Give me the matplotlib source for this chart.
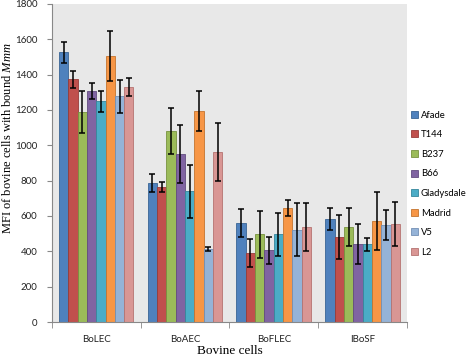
import matplotlib
matplotlib.use("Agg")
import matplotlib.pyplot as plt
import numpy as np

categories = ["BoLEC", "BoAEC", "BoFLEC", "IBoSF"]
series = ["Afade", "T144", "B237", "B66", "Gladysdale", "Madrid", "V5", "L2"]
values = {
    "Afade":      [1526, 788, 562, 583],
    "T144":       [1373, 762, 392, 479],
    "B237":       [1187, 1079, 496, 538],
    "B66":        [1307, 949, 406, 441],
    "Gladysdale": [1249, 741, 496, 440],
    "Madrid":     [1505, 1194, 645, 572],
    "V5":         [1277, 415, 522, 549],
    "L2":         [1330, 962, 538, 556],
}
errors = {
    "Afade":      [60, 50, 80, 60],
    "T144":       [50, 28, 78, 125],
    "B237":       [120, 130, 135, 105],
    "B66":        [47, 165, 77, 113],
    "Gladysdale": [60, 150, 120, 38],
    "Madrid":     [140, 115, 44, 162],
    "V5":         [95, 12, 150, 87],
    "L2":         [52, 165, 137, 123],
}
colors = ["#4F81BD", "#C0504D", "#9BBB59", "#8064A2", "#4BACC6", "#F79646", "#95B3D7", "#D99694"]
edges = ["#3A6595", "#983C3A", "#78923F", "#624C80", "#36879C", "#C4742F", "#7390B5", "#B57371"]

plt.rcParams['mathtext.fontset'] = 'custom'
plt.rcParams['mathtext.rm'] = 'Liberation Serif'
plt.rcParams['mathtext.it'] = 'Liberation Serif:italic'
plt.rcParams['font.family'] = ['Lato', 'DejaVu Sans']

fig = plt.figure(figsize=(4.71, 3.59), dpi=100)
ax = fig.add_axes([0.110, 0.103, 0.754, 0.886])
ax.set_facecolor("#E8E8E8")

n = len(series)
x = np.arange(len(categories))
bw = 0.84 / n
for i, s in enumerate(series):
    pos = x - 0.42 + bw * (i + 0.5)
    ax.bar(pos, values[s], width=bw, color=colors[i], edgecolor=edges[i], linewidth=0.6,
           label=s, zorder=2)
    ax.errorbar(pos, values[s], yerr=errors[s], fmt='none', ecolor='black',
                elinewidth=1.1, capsize=2.2, capthick=1.1, zorder=3)

ax.set_xlim(-0.5, len(categories) - 0.5)
ax.set_ylim(0, 1800)
ax.set_yticks(np.arange(0, 1801, 200))
ax.set_xticks(x)
ax.set_xticklabels(categories)
ax.set_xticks(np.arange(-0.5, len(categories), 1.0), minor=True)
ax.tick_params(axis='x', which='major', length=0, labelsize=7, pad=9, colors='#222222')
ax.tick_params(axis='x', which='minor', length=4, direction='out', color='#888888')
ax.tick_params(axis='y', length=3.5, direction='out', labelsize=7, pad=7, colors='#222222')
ax.tick_params(axis='y', color='#888888')
for sp in ['top', 'right']:
    ax.spines[sp].set_visible(False)
for sp in ['left', 'bottom']:
    ax.spines[sp].set_color('#888888')
    ax.spines[sp].set_linewidth(0.8)

ax.set_xlabel("Bovine cells", family='Liberation Serif', fontsize=9.5, labelpad=1)
fig.text(8 / 471, 1 - 138 / 359, r"MFI of bovine cells with bound $\mathit{Mmm}$",
         family='Liberation Serif', fontsize=9, rotation=90, ha='center', va='center')

leg = ax.legend(loc='center left', bbox_to_anchor=(1.012, 0.435), frameon=False,
                fontsize=6.8, handlelength=0.75, handleheight=0.75, handletextpad=0.25,
                labelspacing=1.12, borderaxespad=0, borderpad=0)

fig.savefig("out.png", dpi=100)
